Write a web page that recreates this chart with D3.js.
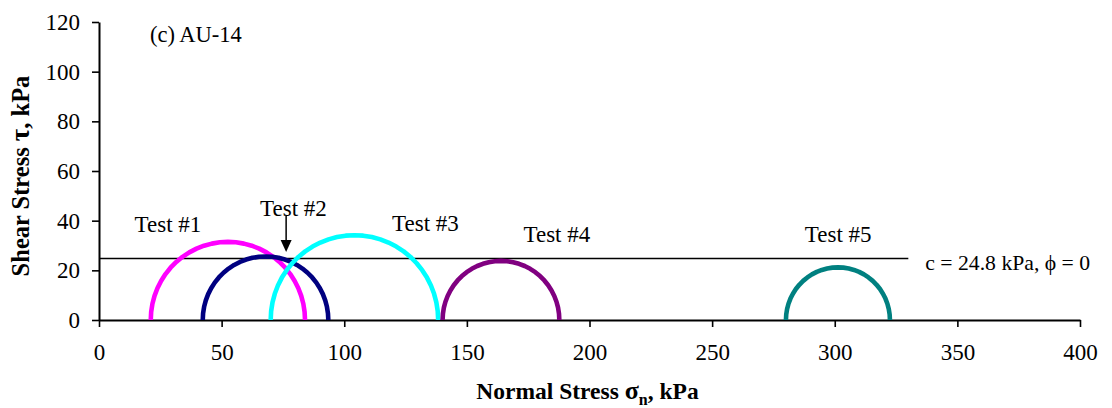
<!DOCTYPE html>
<html>
<head>
<meta charset="utf-8">
<script src="https://cdn.jsdelivr.net/npm/d3@7"></script>
<style>
  html, body { margin: 0; padding: 0; background: #fff; }
  svg { display: block; }
  text { font-family: "Liberation Serif", "DejaVu Serif", serif; fill: #000; }
</style>
</head>
<body>
<svg id="chart" width="1112" height="408"></svg>
<script>
// Mohr circles for five tests: minor and major principal stresses (kPa)
const tests = ["Test #1", "Test #2", "Test #3", "Test #4", "Test #5"];
const sigma3 = [21.1, 42.3, 70.0, 140.1, 280.1];
const sigma1 = [84.0, 93.5, 138.3, 187.7, 322.5];
const colors = ["#ff00ff", "#000080", "#00ffff", "#800080", "#008080"];

// Failure envelope (undrained: phi = 0)
const cohesion = 24.8;
const envelopeEnd = 330;
const envelopeLabel = "c = 24.8 kPa, \u03d5 = 0";

const xTicks = [0, 50, 100, 150, 200, 250, 300, 350, 400];
const yTicks = [0, 20, 40, 60, 80, 100, 120];
const panelTitle = "(c) AU-14";

const W = 1112, H = 408;
const margin = { left: 99, right: 32, top: 22, bottom: 88 };
const serif = "'Liberation Serif', 'DejaVu Serif', serif";

const svg = d3.select("#chart");
const x = d3.scaleLinear().domain([0, 400]).range([margin.left, W - margin.right]);
const y = d3.scaleLinear().domain([0, 120]).range([H - margin.bottom, margin.top]);

// Axes
const xAxis = d3.axisBottom(x).tickValues(xTicks).tickSize(7).tickPadding(17).tickSizeOuter(0);
const yAxis = d3.axisLeft(y).tickValues(yTicks).tickSize(7).tickPadding(12).tickSizeOuter(0);

const gx = svg.append("g").attr("transform", `translate(0,${y(0)})`).call(xAxis);
const gy = svg.append("g").attr("transform", `translate(${x(0)},0)`).call(yAxis);

[gx, gy].forEach(g => {
  g.attr("font-family", serif).attr("font-size", 23);
  g.select(".domain").attr("stroke", "#000").attr("stroke-width", 2);
  g.selectAll(".tick line").attr("stroke", "#000").attr("stroke-width", 1.6);
  g.selectAll(".tick text")
    .style("font-family", serif)
    .style("font-size", "23px")
    .attr("fill", "#000");
});
gx.selectAll(".tick text").attr("dy", "0.71em");

// Axis titles
svg.append("text")
  .attr("x", (x(0) + x(400)) / 2 - 2)
  .attr("y", 399)
  .attr("text-anchor", "middle")
  .style("font-size", "23.5px")
  .style("font-weight", "bold")
  .call(t => {
    t.append("tspan").text("Normal Stress ");
    t.append("tspan").text("\u03c3").style("font-size", "26px");
    t.append("tspan").text("n").attr("dy", 6).style("font-size", "16px");
    t.append("tspan").text(", kPa").attr("dy", -6);
  });

svg.append("text")
  .attr("transform", `translate(29,${(y(0) + y(120)) / 2 + 5}) rotate(-90)`)
  .attr("text-anchor", "middle")
  .style("font-size", "24.5px")
  .style("font-weight", "bold")
  .call(t => {
    t.append("tspan").text("Shear Stress ");
    t.append("tspan").text("\u03c4").style("font-size", "27px");
    t.append("tspan").text(", kPa");
  });

// Panel title
svg.append("text")
  .attr("x", 150).attr("y", 42)
  .style("font-size", "22.5px")
  .text(panelTitle);

// Envelope line
svg.append("line")
  .attr("x1", x(0)).attr("x2", x(envelopeEnd))
  .attr("y1", y(cohesion)).attr("y2", y(cohesion))
  .attr("stroke", "#000").attr("stroke-width", 1.5);

svg.append("text")
  .attr("x", x(envelopeEnd) + 17).attr("y", y(cohesion) + 12)
  .style("font-size", "21.7px")
  .text(envelopeLabel);

// Mohr semicircles: centre (s1+s3)/2, radius (s1-s3)/2
const line = d3.line().x(d => x(d[0])).y(d => y(d[1]));
tests.forEach((name, i) => {
  const c = (sigma1[i] + sigma3[i]) / 2;
  const r = (sigma1[i] - sigma3[i]) / 2;
  const pts = d3.range(0, 181, 6).map(a => {
    const th = Math.PI - a * Math.PI / 180;
    return [c + r * Math.cos(th), r * Math.sin(th)];
  });
  svg.append("path")
    .attr("d", line(pts))
    .attr("fill", "none")
    .attr("stroke", colors[i])
    .attr("stroke-width", 4.6)
    .attr("stroke-linejoin", "round");
});

// Test labels
const labelPos = [[28.1, 35.5], [79.3, 42.0], [133.1, 35.9], [186.7, 31.4], [301.4, 31.4]];
tests.forEach((name, i) => {
  svg.append("text")
    .attr("x", x(labelPos[i][0])).attr("y", y(labelPos[i][1]))
    .attr("text-anchor", "middle")
    .style("font-size", "23px")
    .text(name);
});

// Arrow from the Test #2 label to its circle
const ax = x(76.3), ay1 = y(41.9), ay2 = y(27.4);
svg.append("line")
  .attr("x1", ax).attr("x2", ax)
  .attr("y1", ay1).attr("y2", ay2 - 10)
  .attr("stroke", "#000").attr("stroke-width", 1.5);
svg.append("path")
  .attr("d", `M${ax - 5.5},${ay2 - 12} L${ax + 5.5},${ay2 - 12} L${ax},${ay2} Z`)
  .attr("fill", "#000");
</script>
</body>
</html>
